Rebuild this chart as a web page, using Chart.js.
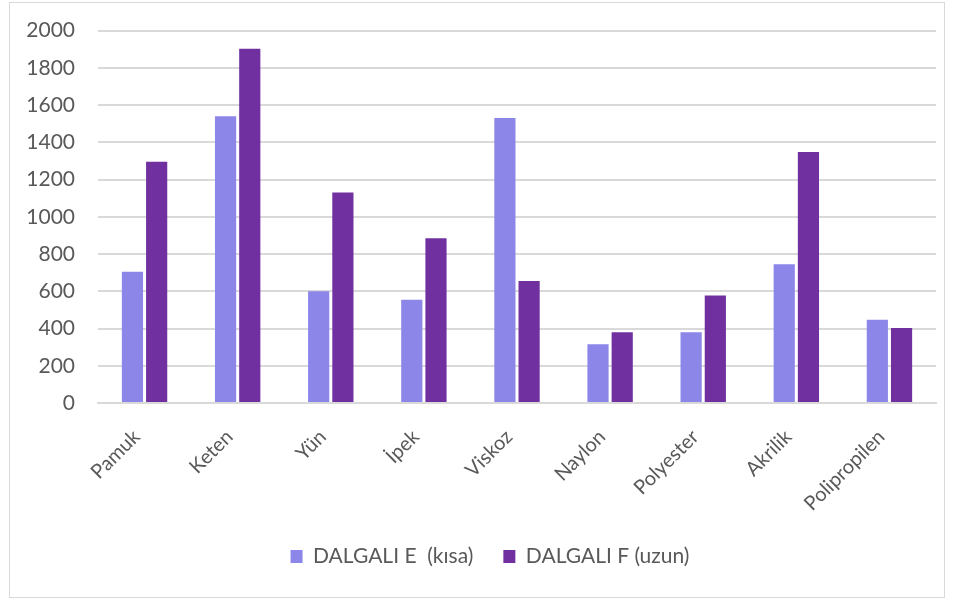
<!DOCTYPE html>
<html>
<head>
<meta charset="utf-8">
<script src="https://cdn.jsdelivr.net/npm/chart.js@4/dist/chart.umd.min.js"></script>
<style>
    body { margin: 0; background: #fff; }
    .frame {
        position: absolute; left: 9px; top: 2px;
        width: 934px; height: 594px;
        border: 1px solid #d9d9d9;
    }
    #lifChart { position: absolute; left: 10px; top: -5px; display: block; }
</style>
</head>
<body>
<div class="frame"></div>
<canvas id="lifChart" width="934" height="599"></canvas>
<script>
// Lif türleri ve dalgalılık değerleri
const liflar = ['Pamuk', 'Keten', 'Yün', 'İpek', 'Viskoz', 'Naylon', 'Polyester', 'Akrilik', 'Polipropilen'];
const dalgaliE = [705, 1540, 600, 555, 1530, 315, 380, 745, 447];
const dalgaliF = [1295, 1903, 1130, 885, 655, 380, 578, 1348, 403];
const yTicks = [0, 200, 400, 600, 800, 1000, 1200, 1400, 1600, 1800, 2000];

const yaziRengi = '#595959';
const cizgiRengi = '#d9d9d9';
const yaziTipi = "Lato, sans-serif";

// lejantı biraz sağa kaydır
const lejantKaydir = {
    id: 'lejantKaydir',
    afterLayout(chart) {
        chart.legend.left += 17;
        chart.legend.right += 17;
    }
};

const ctx = document.getElementById('lifChart').getContext('2d');
const lifChart = new Chart(ctx, {
    type: 'bar',
    data: {
        labels: liflar,
        datasets: [
            {
                label: 'DALGALI E  (kısa)',
                data: dalgaliE,
                backgroundColor: '#8b86e8'
            },
            {
                label: 'DALGALI F (uzun)',
                data: dalgaliF,
                backgroundColor: '#7030a0'
            }
        ]
    },
    plugins: [lejantKaydir],
    options: {
        responsive: false,
        animation: false,
        categoryPercentage: 0.52,
        barPercentage: 0.875,
        layout: {
            padding: { top: 0, right: 8, bottom: 17, left: 0 }
        },
        plugins: {
            tooltip: { enabled: false },
            legend: {
                position: 'bottom',
                labels: {
                    boxWidth: 12,
                    boxHeight: 13,
                    padding: 30,
                    color: yaziRengi,
                    font: { family: yaziTipi, size: 21 }
                }
            }
        },
        scales: {
            x: {
                grid: { display: false, drawTicks: false },
                border: { color: cizgiRengi, width: 2 },
                ticks: {
                    color: yaziRengi,
                    font: { family: yaziTipi, size: 20 },
                    minRotation: 45,
                    maxRotation: 45,
                    padding: 22,
                    labelOffset: -8
                },
                afterFit: scale => { scale.height = 113; }
            },
            y: {
                min: 0,
                max: 2000,
                afterBuildTicks: scale => {
                    scale.ticks = yTicks.map(v => ({ value: v }));
                },
                grid: { color: cizgiRengi, lineWidth: 2, drawTicks: false },
                border: { display: false },
                ticks: {
                    color: yaziRengi,
                    font: { family: yaziTipi, size: 21 },
                    padding: 23,
                    callback: v => String(v)
                },
                afterFit: scale => { scale.width = 88; }
            }
        }
    }
});
</script>
</body>
</html>
